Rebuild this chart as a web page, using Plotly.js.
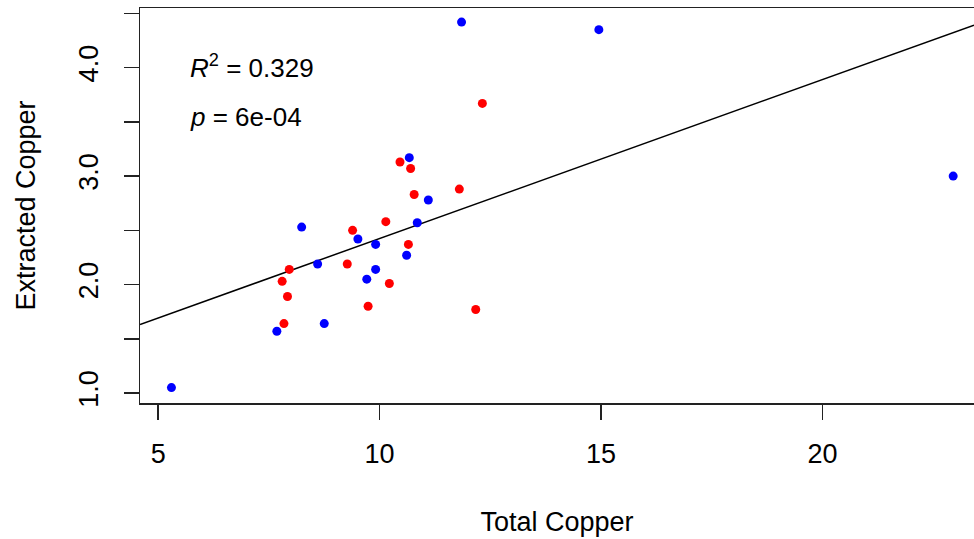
<!DOCTYPE html>
<html>
<head>
<meta charset="utf-8">
<script src="https://cdn.plot.ly/plotly-3.0.1.min.js"></script>
<style>html,body{margin:0;padding:0;background:#fff;overflow:hidden}#chart{width:974px;height:539px}</style>
</head>
<body>
<div id="chart"></div>
<script>
// Group 1 (red)
const redTotal = [10.46, 10.70, 11.80, 10.78, 10.14, 9.39, 10.65, 9.27, 7.96, 7.80, 10.22, 7.92, 9.74, 12.17, 7.84, 12.32];
const redExtracted = [3.13, 3.07, 2.88, 2.83, 2.58, 2.50, 2.37, 2.19, 2.14, 2.03, 2.01, 1.89, 1.80, 1.77, 1.64, 3.67];
// Group 2 (blue)
const blueTotal = [10.67, 11.10, 8.24, 10.85, 9.51, 9.91, 10.61, 8.60, 9.91, 9.71, 8.75, 7.68, 5.30, 11.85, 14.95, 22.95];
const blueExtracted = [3.17, 2.78, 2.53, 2.57, 2.42, 2.37, 2.27, 2.19, 2.14, 2.05, 1.64, 1.57, 1.05, 4.42, 4.35, 3.00];

const xTickVals = [5, 10, 15, 20];
const yTickVals = [1.0, 2.0, 3.0, 4.0];
const yTickText = ['1.0', '2.0', '3.0', '4.0'];
const yMinorTickVals = [1.5, 2.5, 3.5, 4.5];
const xRange = [4.59, 23.42];
const yRange = [0.908, 4.55];
const statR2 = '0.329';
const statP = '6e-04';

// least-squares fit over all points
const allX = redTotal.concat(blueTotal);
const allY = redExtracted.concat(blueExtracted);
const n = allX.length;
const mx = allX.reduce((a, b) => a + b, 0) / n;
const my = allY.reduce((a, b) => a + b, 0) / n;
let sxy = 0, sxx = 0;
for (let i = 0; i < n; i++) { sxy += (allX[i] - mx) * (allY[i] - my); sxx += (allX[i] - mx) ** 2; }
const slope = sxy / sxx;
const intercept = my - slope * mx;
const fitX = [xRange[0], xRange[1]];
const fitY = fitX.map(v => intercept + slope * v);

const font = {family: '"Liberation Sans", Arial, sans-serif', color: '#000'};

const traces = [
  {x: fitX, y: fitY, mode: 'lines', line: {color: '#000', width: 1.5}, hoverinfo: 'skip', showlegend: false},
  {x: redTotal, y: redExtracted, mode: 'markers', marker: {color: '#FF0000', size: 9}, showlegend: false},
  {x: blueTotal, y: blueExtracted, mode: 'markers', marker: {color: '#0000FF', size: 9}, showlegend: false}
];

const layout = {
  width: 974, height: 539,
  margin: {l: 140, r: 0, t: 8, b: 136},
  paper_bgcolor: '#fff', plot_bgcolor: '#fff',
  font: Object.assign({size: 27}, font),
  showlegend: false,
  xaxis: {
    range: xRange, tickvals: xTickVals, ticktext: xTickVals.map(String),
    ticks: 'outside', ticklen: 15, tickwidth: 1.5, tickcolor: '#222',
    showline: true, linecolor: '#222', linewidth: 1.5, mirror: true,
    showgrid: false, zeroline: false, ticklabelstandoff: 11,
    tickfont: Object.assign({size: 27}, font),
    title: {text: 'Total Copper', font: Object.assign({size: 27}, font), standoff: 44}
  },
  yaxis: {
    range: yRange, tickvals: yTickVals, ticktext: yTickText, tickangle: -90,
    ticks: 'outside', ticklen: 15, tickwidth: 1.5, tickcolor: '#222',
    minor: {tickvals: yMinorTickVals, ticks: 'outside', ticklen: 15, tickwidth: 1.5, tickcolor: '#222', showgrid: false},
    showline: true, linecolor: '#222', linewidth: 1.5, mirror: false,
    showgrid: false, zeroline: false, ticklabelstandoff: 15,
    tickfont: Object.assign({size: 27}, font),
    title: {text: 'Extracted Copper', font: Object.assign({size: 27}, font), standoff: 30}
  },
  annotations: [
    {xref: 'paper', yref: 'paper', x: 0.0576, y: 0.851, xanchor: 'left', yanchor: 'middle', showarrow: false,
     text: '<i>R</i><sup>2</sup> = ' + statR2, font: Object.assign({size: 26}, font)},
    {xref: 'paper', yref: 'paper', x: 0.0576, y: 0.724, xanchor: 'left', yanchor: 'middle', showarrow: false,
     text: '<i>p</i> = ' + statP, font: Object.assign({size: 26}, font)}
  ]
};

Plotly.newPlot('chart', traces, layout, {staticPlot: true, displayModeBar: false});
</script>
</body>
</html>
